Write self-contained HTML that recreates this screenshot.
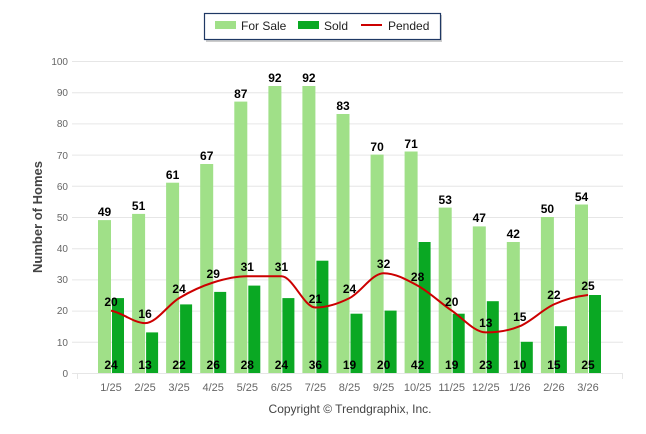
<!DOCTYPE html>
<html><head><meta charset="utf-8"><style>body{margin:0;background:#fff}svg{display:block}</style></head><body>
<svg width="646" height="434" xmlns="http://www.w3.org/2000/svg" font-family="'Liberation Sans', Arial, sans-serif">
<rect x="206" y="15" width="236" height="27" fill="#999" opacity="0.5"/>
<rect x="204.5" y="13.5" width="236" height="26" fill="#fff" stroke="#1f3864" stroke-width="1.2"/>
<rect x="215" y="21" width="21" height="8" fill="#a0e088"/>
<text x="241" y="30" font-size="12" fill="#222">For Sale</text>
<rect x="298" y="21" width="21" height="8" fill="#0aa823"/>
<text x="324" y="30" font-size="12" fill="#222">Sold</text>
<line x1="361" y1="25" x2="382" y2="25" stroke="#c00" stroke-width="2"/>
<text x="388" y="30" font-size="12" fill="#222">Pended</text>
<g stroke="#e6e6e6" stroke-width="1">
<line x1="72" y1="61.5" x2="623" y2="61.5"/><line x1="72" y1="92.7" x2="623" y2="92.7"/><line x1="72" y1="123.9" x2="623" y2="123.9"/><line x1="72" y1="155.1" x2="623" y2="155.1"/><line x1="72" y1="186.3" x2="623" y2="186.3"/><line x1="72" y1="217.5" x2="623" y2="217.5"/><line x1="72" y1="248.7" x2="623" y2="248.7"/><line x1="72" y1="279.9" x2="623" y2="279.9"/><line x1="72" y1="311.1" x2="623" y2="311.1"/><line x1="72" y1="342.3" x2="623" y2="342.3"/><line x1="72" y1="373.5" x2="623" y2="373.5"/>
<line x1="77.5" y1="373" x2="77.5" y2="379"/><line x1="622.5" y1="373" x2="622.5" y2="379"/>
</g>
<g font-size="10" fill="#666" text-anchor="end">
<text x="68" y="65">100</text><text x="68" y="96">90</text><text x="68" y="127">80</text><text x="68" y="159">70</text><text x="68" y="190">60</text><text x="68" y="221">50</text><text x="68" y="252">40</text><text x="68" y="283">30</text><text x="68" y="314">20</text><text x="68" y="346">10</text><text x="68" y="377">0</text>
</g>
<text transform="translate(42,217) rotate(-90)" font-size="13" font-weight="bold" fill="#444" text-anchor="middle">Number of Homes</text>
<g fill="#a0e088">
<rect x="98" y="220.1" width="13" height="152.9"/><rect x="132.1" y="213.9" width="13" height="159.1"/><rect x="166.1" y="182.7" width="13" height="190.3"/><rect x="200.2" y="164" width="13" height="209"/><rect x="234.3" y="101.6" width="13" height="271.4"/><rect x="268.4" y="86" width="13" height="287"/><rect x="302.4" y="86" width="13" height="287"/><rect x="336.5" y="114" width="13" height="259"/><rect x="370.6" y="154.6" width="13" height="218.4"/><rect x="404.6" y="151.5" width="13" height="221.5"/><rect x="438.7" y="207.6" width="13" height="165.4"/><rect x="472.8" y="226.4" width="13" height="146.6"/><rect x="506.8" y="242" width="13" height="131"/><rect x="540.9" y="217" width="13" height="156"/><rect x="575" y="204.5" width="13" height="168.5"/>
</g>
<g fill="#0aa823">
<rect x="112" y="298.1" width="12" height="74.9"/><rect x="146.1" y="332.4" width="12" height="40.6"/><rect x="180.1" y="304.4" width="12" height="68.6"/><rect x="214.2" y="291.9" width="12" height="81.1"/><rect x="248.3" y="285.6" width="12" height="87.4"/><rect x="282.4" y="298.1" width="12" height="74.9"/><rect x="316.4" y="260.7" width="12" height="112.3"/><rect x="350.5" y="313.7" width="12" height="59.3"/><rect x="384.6" y="310.6" width="12" height="62.4"/><rect x="418.6" y="242" width="12" height="131"/><rect x="452.7" y="313.7" width="12" height="59.3"/><rect x="486.8" y="301.2" width="12" height="71.8"/><rect x="520.8" y="341.8" width="12" height="31.2"/><rect x="554.9" y="326.2" width="12" height="46.8"/><rect x="589" y="295" width="12" height="78"/>
</g>
<path d="M111,310.6 C122.4,312.6 133.7,323.1 145.1,323.1 C156.5,323.1 167.7,304.9 179.1,298.1 C190.5,291.3 201.8,286.1 213.2,282.5 C224.6,278.9 235.9,276.3 247.3,276.3 C258.7,276.3 270,276.3 281.4,276.3 C292.8,276.3 304,307.5 315.4,307.5 C326.8,307.5 338.1,303.8 349.5,298.1 C360.9,292.4 372.2,273.2 383.6,273.2 C395,273.2 406.2,279.4 417.6,285.6 C429,291.8 440.3,302.8 451.7,310.6 C463.1,318.4 474.4,332.4 485.8,332.4 C497.2,332.4 508.4,330.9 519.8,326.2 C531.2,321.5 542.5,309.6 553.9,304.4 C565.3,299.2 576.6,296.3 588,295" fill="none" stroke="#c00" stroke-width="2"/>
<g font-size="12" font-weight="bold" fill="#000" text-anchor="middle">
<text x="104.5" y="216">49</text><text x="138.6" y="210">51</text><text x="172.6" y="179">61</text><text x="206.7" y="160">67</text><text x="240.8" y="98">87</text><text x="274.9" y="82">92</text><text x="308.9" y="82">92</text><text x="343" y="110">83</text><text x="377.1" y="151">70</text><text x="411.1" y="148">71</text><text x="445.2" y="204">53</text><text x="479.3" y="222">47</text><text x="513.3" y="238">42</text><text x="547.4" y="213">50</text><text x="581.5" y="201">54</text>
<text x="111" y="369">24</text><text x="145.1" y="369">13</text><text x="179.1" y="369">22</text><text x="213.2" y="369">26</text><text x="247.3" y="369">28</text><text x="281.4" y="369">24</text><text x="315.4" y="369">36</text><text x="349.5" y="369">19</text><text x="383.6" y="369">20</text><text x="417.6" y="369">42</text><text x="451.7" y="369">19</text><text x="485.8" y="369">23</text><text x="519.8" y="369">10</text><text x="553.9" y="369">15</text><text x="588" y="369">25</text>
<text x="111" y="306">20</text><text x="145.1" y="318">16</text><text x="179.1" y="293">24</text><text x="213.2" y="278">29</text><text x="247.3" y="271">31</text><text x="281.4" y="271">31</text><text x="315.4" y="303">21</text><text x="349.5" y="293">24</text><text x="383.6" y="268">32</text><text x="417.6" y="281">28</text><text x="451.7" y="306">20</text><text x="485.8" y="327">13</text><text x="519.8" y="321">15</text><text x="553.9" y="299">22</text><text x="588" y="290">25</text>
</g>
<g font-size="11" fill="#666" text-anchor="middle">
<text x="111" y="391">1/25</text><text x="145.1" y="391">2/25</text><text x="179.1" y="391">3/25</text><text x="213.2" y="391">4/25</text><text x="247.3" y="391">5/25</text><text x="281.4" y="391">6/25</text><text x="315.4" y="391">7/25</text><text x="349.5" y="391">8/25</text><text x="383.6" y="391">9/25</text><text x="417.6" y="391">10/25</text><text x="451.7" y="391">11/25</text><text x="485.8" y="391">12/25</text><text x="519.8" y="391">1/26</text><text x="553.9" y="391">2/26</text><text x="588" y="391">3/26</text>
</g>
<text x="350" y="413" font-size="12" fill="#444" text-anchor="middle">Copyright © Trendgraphix, Inc.</text>
</svg>
</body></html>
